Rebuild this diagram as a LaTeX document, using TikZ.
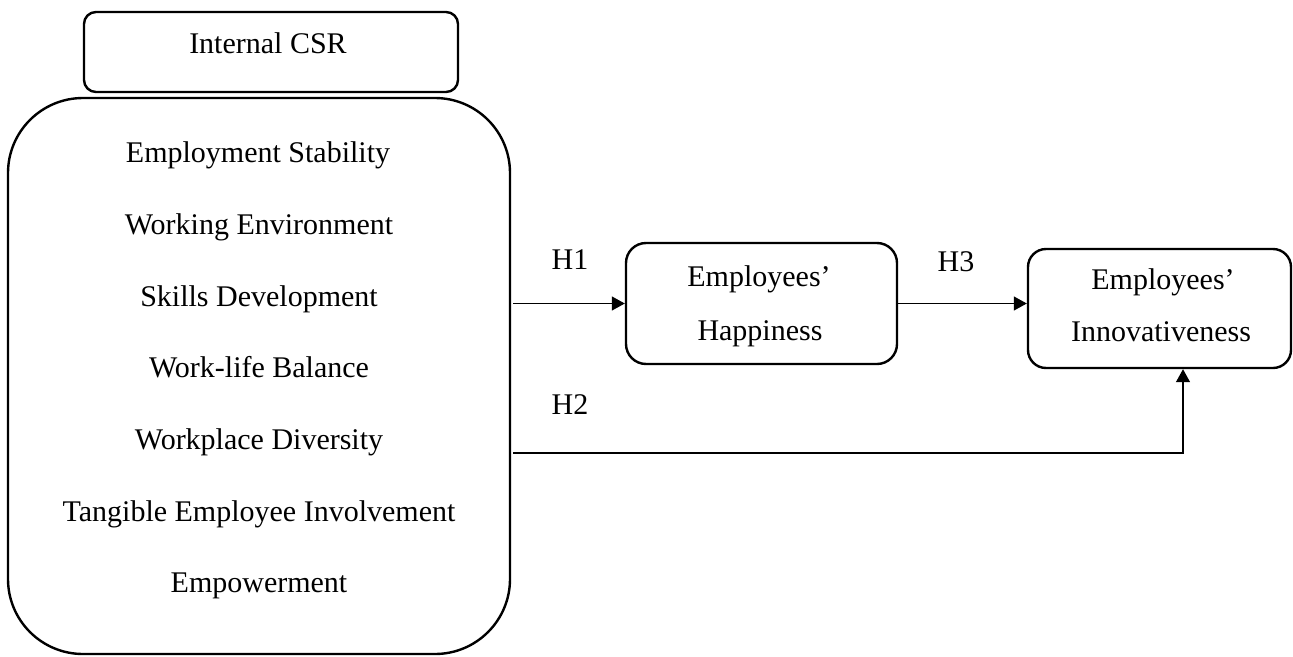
\documentclass[tikz,border=0pt]{standalone}
\usepackage{fontspec}
\setmainfont{Liberation Serif}
\usetikzlibrary{arrows.meta}
\begin{document}
\begin{tikzpicture}[x=1pt,y=-1pt,
  box/.style={draw, line width=2.4pt, rounded corners=#1, inner sep=0pt},
  box/.default=12pt,
  txt/.style={inner sep=0pt, text height=19.8pt, text depth=0pt,
              font=\fontsize{30}{36}\selectfont},
  link/.style={draw, line width=1.3pt,
               -{Triangle[length=13pt,width=14pt]}}
]
\useasboundingbox (0,0) rectangle (1293,656);

% construct header and the list of internal CSR dimensions
\node[box=12pt, minimum width=374pt, minimum height=80pt] (csrhead) at (271,52) {};
\node[txt] (csrtitle) at (268,43.5) {Internal CSR};
\node[box=75pt, minimum width=502pt, minimum height=556pt] (csr) at (259,376) {};
\node[txt] (d1) at (258,153) {Employment Stability};
\node[txt] (d2) at (259,225) {Working Environment};
\node[txt] (d3) at (259,296.5) {Skills Development};
\node[txt] (d4) at (259,368) {Work-life Balance};
\node[txt] (d5) at (259,439.5) {Workplace Diversity};
\node[txt] (d6) at (259,511.5) {Tangible Employee Involvement};
\node[txt] (d7) at (259,583) {Empowerment};

% outcome constructs
\node[box=20pt, minimum width=271pt, minimum height=121pt] (hap) at (761.5,303.5) {};
\node[txt] (hap1) at (759,277) {Employees’};
\node[txt] (hap2) at (760,331) {Happiness};
\node[box=18pt, minimum width=263pt, minimum height=119pt] (inn) at (1159.5,308.5) {};
\node[txt] (inn1) at (1163,280) {Employees’};
\node[txt] (inn2) at (1161,332) {Innovativeness};

% hypothesis labels
\node[txt] (h1) at (570,260) {H1};
\node[txt] (h2) at (570,405) {H2};
\node[txt] (h3) at (956,262) {H3};

% hypothesised paths
\coordinate (h1start) at (513,303.5);
\coordinate (h2start) at (513,453);
\draw[link] (h1start) -- (hap.west);
\draw[link] (hap.east) -- (hap.east -| inn.west);
\draw[link] (h2start) -| ([xshift=23.5pt]inn.south);
\end{tikzpicture}
\end{document}
